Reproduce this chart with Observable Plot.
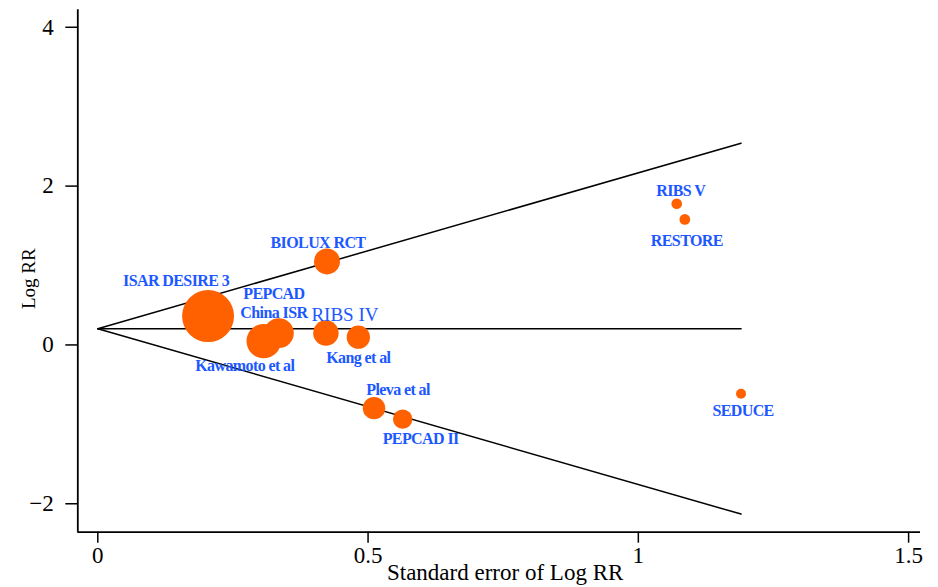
<!DOCTYPE html>
<html><head><meta charset="utf-8">
<script src="https://cdn.jsdelivr.net/npm/d3@7"></script>
<script src="https://cdn.jsdelivr.net/npm/@observablehq/plot@0.6"></script>
<style>body{margin:0;background:#fff} .lbl text{letter-spacing:-0.6px}</style>
</head><body><div id="chart"></div>
<script>
// ---- data ----
const studies = ["ISAR DESIRE 3","BIOLUX RCT","PEPCAD\nChina ISR","RIBS IV","Kawamoto et al","Kang et al","Pleva et al","PEPCAD II","RIBS V","RESTORE","SEDUCE"];
const seLogRR = [0.204, 0.424, 0.335, 0.422, 0.307, 0.482, 0.511, 0.564, 1.071, 1.086, 1.19];
const logRR   = [0.363, 1.052, 0.149, 0.149, 0.048, 0.098, -0.796, -0.934, 1.778, 1.581, -0.615];
const weights = [100, 25, 33, 24, 44, 20, 18.6, 14, 4.2, 4.2, 3.7];
const funnelSE = [0, 1.19];
const funnelUpper = [0.205, 2.54];
const funnelLower = [0.205, -2.13];
const pooledLogRR = [0.205, 0.205];
const xTicks = [0, 0.5, 1, 1.5];
const yTicks = [-2, 0, 2, 4];
const xTitle = "Standard error of Log RR";
const yTitle = "Log RR";

// ---- label placement (style) ----
const labelStyle = [
  {dx: -32, dy: -36}, {dx: -9, dy: -20}, {dx: -5, dy: -31}, {dx: 19, dy: -20, size: 19, weight: "normal"},
  {dx: -19, dy: 24}, {dx: 0, dy: 20}, {dx: 24, dy: -19}, {dx: 18, dy: 19},
  {dx: 4, dy: -14}, {dx: 2, dy: 20}, {dx: 2, dy: 16}
];

const studyRows = studies.map((s, i) => ({name: s, se: seLogRR[i], lr: logRR[i], w: weights[i]}));
const funnelRows = funnelSE.map((s, i) => ({se: s, up: funnelUpper[i], lo: funnelLower[i], c: pooledLogRR[i]}));

const xDom = [-0.037, 1.522], yDom = [-2.358, 4.22];
const orange = "#ff6100", blue = "#1c58ff";

const labelMarks = studyRows.map((d, i) => Plot.text([d], {
  x: "se", y: "lr", text: "name",
  dx: labelStyle[i].dx, dy: labelStyle[i].dy,
  fill: blue, fontSize: labelStyle[i].size || 16, fontWeight: labelStyle[i].weight || "bold",
  lineHeight: 1.22, textAnchor: "middle", className: labelStyle[i].size ? undefined : "lbl"
}));

const chart = Plot.plot({
  width: 938, height: 587,
  marginLeft: 77.3, marginRight: 18, marginTop: 9.3, marginBottom: 55.3,
  style: {fontFamily: "'Liberation Serif', 'Times New Roman', serif", background: "#fff", color: "#000"},
  x: {domain: xDom, axis: null},
  y: {domain: yDom, axis: null},
  r: {domain: [0, 100], range: [0, 26]},
  marks: [
    Plot.ruleX([xDom[0]], {stroke: "#000", strokeWidth: 1.8}),
    Plot.ruleY([yDom[0]], {stroke: "#000", strokeWidth: 1.8}),
    Plot.axisX(xTicks, {tickSize: 11, tickPadding: 3, fontSize: 23, strokeWidth: 1.5, tickFormat: d => String(d), label: null}),
    Plot.axisY(yTicks, {tickSize: 12, tickPadding: 12, fontSize: 23, strokeWidth: 1.5, tickFormat: d => d < 0 ? "\u2212" + Math.abs(d) : String(d), label: null}),
    Plot.text([xTitle], {frameAnchor: "bottom", dx: 6, dy: 48, fontSize: 23, fill: "#000"}),
    Plot.text([yTitle], {frameAnchor: "left", rotate: -90, dx: -49, dy: 38, fontSize: 19, fill: "#000"}),
    Plot.line(funnelRows, {x: "se", y: "up", stroke: "#000", strokeWidth: 1.5}),
    Plot.line(funnelRows, {x: "se", y: "lo", stroke: "#000", strokeWidth: 1.5}),
    Plot.line(funnelRows, {x: "se", y: "c", stroke: "#000", strokeWidth: 1.5}),
    Plot.dot(studyRows, {x: "se", y: "lr", r: "w", fill: orange, stroke: null}),
    ...labelMarks
  ]
});
document.getElementById("chart").appendChild(chart);
</script></body></html>
